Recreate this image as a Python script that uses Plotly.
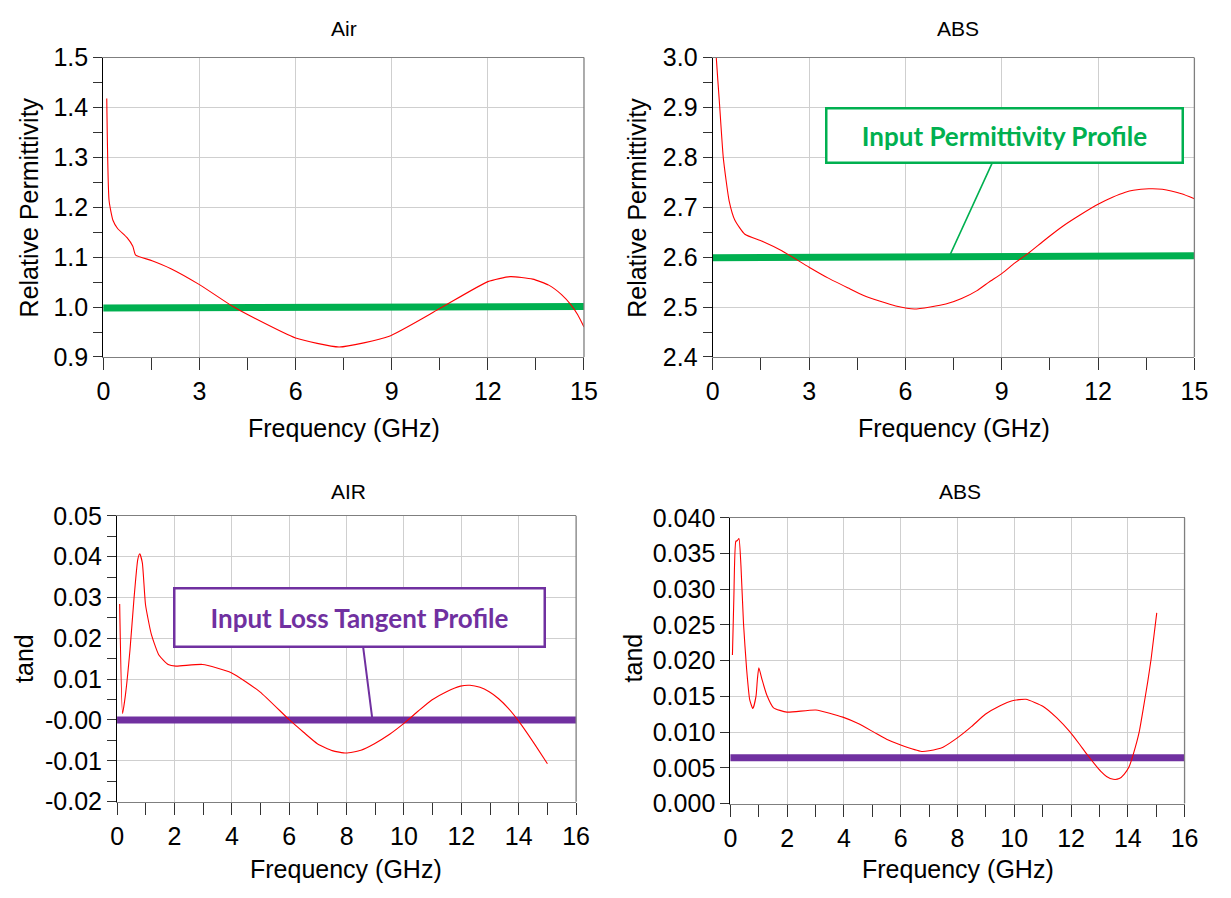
import plotly.graph_objects as go

# ---- measured dielectric data -------------------------------------------
# Relative permittivity, Air sample
air_eps_f = [0.107, 0.18, 0.3, 0.44, 0.74, 0.92, 1.01, 1.52, 2.11, 3.0, 4.02, 4.74,
             6.0, 7.36, 8.9, 10.47, 12.0, 12.7, 13.4, 13.9, 14.3, 14.6, 14.8, 15.0]
air_eps_v = [1.418, 1.213, 1.174, 1.158, 1.139, 1.122, 1.104, 1.093, 1.077, 1.045, 1.002, 0.977,
             0.938, 0.920, 0.941, 0.996, 1.051, 1.061, 1.056, 1.044, 1.025, 1.004, 0.985, 0.960]

# Relative permittivity, ABS sample
abs_eps_f = [0.08, 0.11, 0.21, 0.33, 0.51, 0.69, 1.0, 1.54, 2.15, 3.0, 3.6, 4.22, 4.7, 5.19,
             5.7, 6.28, 7.26, 7.75, 8.23, 8.6, 9.02, 9.4, 9.81, 10.35, 10.9, 11.45, 12.0,
             12.45, 12.85, 13.1, 13.58, 14.0, 14.6, 15.0]
abs_eps_v = [3.05, 3.0, 2.908, 2.798, 2.713, 2.674, 2.646, 2.632, 2.613, 2.580, 2.558, 2.538,
             2.523, 2.512, 2.502, 2.496, 2.506, 2.517, 2.533, 2.550, 2.568, 2.588, 2.607, 2.635,
             2.662, 2.685, 2.706, 2.720, 2.730, 2.734, 2.737, 2.736, 2.727, 2.717]

# Loss tangent, Air sample
air_tand_f = [0.09, 0.19, 0.29, 0.45, 0.59, 0.72, 0.79, 0.88, 0.99, 1.19, 1.45, 1.78, 2.05,
              2.98, 3.98, 4.98, 5.98, 6.5, 6.98, 7.5, 7.98, 8.5, 8.97, 9.5, 10.04, 10.5, 10.97,
              11.5, 11.97, 12.3, 12.65, 12.97, 13.3, 13.63, 14.03, 14.57, 15.0]
air_tand_v = [0.0284, 0.0016, 0.0061, 0.0172, 0.0298, 0.0393, 0.0407, 0.0385, 0.0283, 0.0211,
              0.0160, 0.0136, 0.0132, 0.0136, 0.0116, 0.0069, 0.0002, -0.0030, -0.0058, -0.0075,
              -0.0081, -0.0074, -0.0058, -0.0035, -0.0006, 0.0022, 0.0049, 0.0070, 0.0083,
              0.0085, 0.0080, 0.0069, 0.0052, 0.0029, -0.0006, -0.0061, -0.0107]

# Loss tangent, ABS sample
abs_tand_f = [0.07, 0.12, 0.19, 0.24, 0.3, 0.37, 0.46, 0.57, 0.68, 0.79, 0.9, 0.95, 1.0, 1.11,
              1.28, 1.52, 1.99, 3.01, 3.96, 4.5, 5.05, 5.5, 6.0, 6.74, 7.0, 7.49, 8.03, 8.5,
              8.98, 9.5, 9.93, 10.41, 11.02, 11.5, 11.97, 12.3, 12.58, 13.05, 13.25, 13.49, 13.7,
              13.87, 14.05, 14.2, 14.4, 14.55, 14.7, 14.82, 15.02]
abs_tand_v = [0.0208, 0.0288, 0.0367, 0.0368, 0.0371, 0.0333, 0.0252, 0.0188, 0.0145, 0.0133,
              0.0150, 0.0174, 0.0190, 0.0174, 0.0152, 0.0134, 0.0128, 0.0131, 0.0121, 0.0112,
              0.0100, 0.0090, 0.0082, 0.0073, 0.0074, 0.0079, 0.0093, 0.0108, 0.0125, 0.0137,
              0.0144, 0.0146, 0.0136, 0.0120, 0.0100, 0.0083, 0.0068, 0.0045, 0.0038, 0.0034,
              0.0035, 0.0041, 0.0052, 0.0070, 0.0100, 0.0134, 0.0170, 0.0202, 0.0267]

# Input (model) profiles
air_eps_profile_f = [-0.05, 15.05]
air_eps_profile_v = [0.998, 1.001]
abs_eps_profile_f = [-0.05, 15.05]
abs_eps_profile_v = [2.599, 2.603]
air_tand_profile_f = [-0.05, 16.05]
air_tand_profile_v = [0.0, 0.0]
abs_tand_profile_f = [-0.05, 16.05]
abs_tand_profile_v = [0.0064, 0.0064]

# Tick labels
eps_air_ticks = [0.9, 1.0, 1.1, 1.2, 1.3, 1.4, 1.5]
eps_abs_ticks = [2.4, 2.5, 2.6, 2.7, 2.8, 2.9, 3.0]
tand_air_ticks = [-0.02, -0.01, 0.0, 0.01, 0.02, 0.03, 0.04, 0.05]
tand_air_text = ["-0.02", "-0.01", "-0.00", "0.01", "0.02", "0.03", "0.04", "0.05"]
tand_abs_ticks = [0.0, 0.005, 0.01, 0.015, 0.02, 0.025, 0.03, 0.035, 0.04]
tand_abs_text = ["0.000", "0.005", "0.010", "0.015", "0.020", "0.025", "0.030", "0.035", "0.040"]

W, H = 1231, 898
RED = "#FF0000"
GREEN = "#00B050"
PURPLE = "#7030A0"
FONT = "Liberation Sans, Arial, sans-serif"
LABEL_FONT = "Lato, Open Sans, sans-serif"


def px_x(p):
    return p / W


def px_y(p):
    return 1 - p / H


# plot-area boxes in pixels: (left, right, top, bottom)
boxes = {
    "1": (98, 587, 45, 354),
    "2": (718, 1208, 45, 354),
    "3": (112, 579, 518, 813),
    "4": (736, 1198, 520, 815),
}

fig = go.Figure()

panels = [
    ("1", air_eps_f, air_eps_v, air_eps_profile_f, air_eps_profile_v, GREEN),
    ("2", abs_eps_f, abs_eps_v, abs_eps_profile_f, abs_eps_profile_v, GREEN),
    ("3", air_tand_f, air_tand_v, air_tand_profile_f, air_tand_profile_v, PURPLE),
    ("4", abs_tand_f, abs_tand_v, abs_tand_profile_f, abs_tand_profile_v, PURPLE),
]

for k, f, v, pf, pv, pc in panels:
    xa = "x" if k == "1" else "x" + k
    ya = "y" if k == "1" else "y" + k
    fig.add_trace(go.Scatter(x=pf, y=pv, mode="lines", xaxis=xa, yaxis=ya,
                             line=dict(color=pc, width=7), showlegend=False,
                             hoverinfo="skip"))
    fig.add_trace(go.Scatter(x=f, y=v, mode="lines", xaxis=xa, yaxis=ya,
                             line=dict(color=RED, width=1.1, shape="spline", smoothing=0.5),
                             showlegend=False))

axis_common = dict(
    showgrid=True, gridcolor="#CFCFCF", gridwidth=1,
    zeroline=False, showline=True, linewidth=1.3,
    ticks="outside", tickcolor="#333333", tickwidth=1.2,
)

TICK_SIZE = 25
x_specs = {
    "1": dict(range=[0, 15], dtick=3, minor_dtick=1.5),
    "2": dict(range=[0, 15], dtick=3, minor_dtick=1.5),
    "3": dict(range=[0, 16], dtick=2, minor_dtick=1),
    "4": dict(range=[0, 16], dtick=2, minor_dtick=1),
}
y_specs = {
    "1": dict(range=[0.9, 1.5], vals=eps_air_ticks, text=[f"{t:.1f}" for t in eps_air_ticks],
              minor=0.05),
    "2": dict(range=[2.4, 3.0], vals=eps_abs_ticks, text=[f"{t:.1f}" for t in eps_abs_ticks],
              minor=0.05),
    "3": dict(range=[-0.02, 0.05], vals=tand_air_ticks, text=tand_air_text, minor=0.005),
    "4": dict(range=[0.0, 0.04], vals=tand_abs_ticks, text=tand_abs_text, minor=None),
}

layout = {}
for k, (l, r, t, b) in boxes.items():
    xs, ys = x_specs[k], y_specs[k]
    xname = "xaxis" if k == "1" else "xaxis" + k
    yname = "yaxis" if k == "1" else "yaxis" + k
    yref = "y" if k == "1" else "y" + k
    xref = "x" if k == "1" else "x" + k
    xa = dict(axis_common)
    xa.update(domain=[px_x(l), px_x(r)], range=xs["range"], dtick=xs["dtick"], tick0=0,
              anchor=yref, ticklen=12, linecolor="#7F7F7F", mirror=True,
              tickfont=dict(family=FONT, color="#000000", size=TICK_SIZE),
              minor=dict(dtick=xs["minor_dtick"], tick0=0, ticks="outside", ticklen=12,
                         tickcolor="#333333", showgrid=False))
    ya = dict(axis_common)
    ya.update(domain=[px_y(b), px_y(t)], range=ys["range"], tickmode="array",
              tickvals=ys["vals"], ticktext=ys["text"], anchor=xref, ticklen=9,
              linecolor="#000000", mirror=False,
              tickfont=dict(family=FONT, color="#000000", size=TICK_SIZE))
    if ys["minor"] is not None:
        ya["minor"] = dict(dtick=ys["minor"], tick0=ys["range"][0], ticks="outside", ticklen=9,
                           tickcolor="#333333", showgrid=False)
    layout[xname] = xa
    layout[yname] = ya

fig.update_layout(**layout)

# right-hand frame edge of each panel
for k in boxes:
    xref = "x domain" if k == "1" else f"x{k} domain"
    yref = "y domain" if k == "1" else f"y{k} domain"
    fig.add_shape(type="line", xref=xref, yref=yref, x0=1, x1=1, y0=0, y1=1,
                  line=dict(color="#7F7F7F", width=1.3))


def label(txt, cx, cy, size, angle=0):
    return dict(text=txt, x=px_x(cx), y=px_y(cy), xref="paper", yref="paper",
                xanchor="center", yanchor="middle", showarrow=False, textangle=angle,
                font=dict(family=FONT, size=size, color="#000000"))


annotations = []
for txt, cx, cy in [("Air", 343, 15), ("ABS", 968, 15), ("AIR", 347, 493), ("ABS", 970, 493)]:
    annotations.append(label(txt, cx, cy, 21))

for cx, cy in [(343, 427), (963, 427), (345, 883), (968, 883)]:
    annotations.append(label("Frequency (GHz)", cx, cy, 25))

for txt, cx, cy in [("Relative Permittivity", 22, 200), ("Relative Permittivity", 641, 200),
                    ("tand", 18, 665), ("tand", 637, 665)]:
    annotations.append(label(txt, cx, cy, 25, angle=-90))

# callouts pointing at the input profiles
annotations.append(dict(
    text="<b>Input Permittivity Profile</b>", x=7.35, y=abs_eps_profile_v[0], xref="x2", yref="y2",
    showarrow=True, arrowhead=0, arrowwidth=1.6, arrowcolor=GREEN, ax=56, ay=-122,
    font=dict(family=LABEL_FONT, size=26, color=GREEN),
    bordercolor=GREEN, borderwidth=2.5, bgcolor="#FFFFFF", width=350, height=48, borderpad=2,
))
annotations.append(dict(
    text="<b>Input Loss Tangent Profile</b>", x=8.9, y=air_tand_profile_v[0], xref="x3", yref="y3",
    showarrow=True, arrowhead=0, arrowwidth=2, arrowcolor=PURPLE, ax=-13, ay=-102,
    font=dict(family=LABEL_FONT, size=26, color=PURPLE),
    bordercolor=PURPLE, borderwidth=2.5, bgcolor="#FFFFFF", width=364, height=52, borderpad=2,
))

fig.update_layout(
    width=W, height=H, margin=dict(l=0, r=0, t=0, b=0),
    paper_bgcolor="#FFFFFF", plot_bgcolor="#FFFFFF",
    annotations=annotations, showlegend=False,
)

fig.write_html("out.html", config={"displayModeBar": False})
